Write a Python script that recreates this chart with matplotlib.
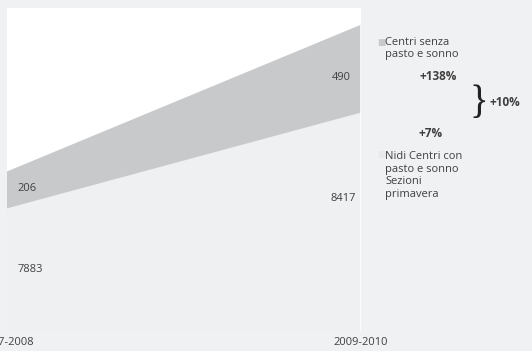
import matplotlib
matplotlib.use("Agg")
import matplotlib.pyplot as plt

# data
years = ["2007-2008", "2009-2010"]
nidi = [7883, 8417]          # Nidi, centri con pasto e sonno, sezioni primavera
centri = [206, 490]          # Centri senza pasto e sonno
pct_centri = "+138%"
pct_nidi = "+7%"
pct_total = "+10%"

BG = "#f0f1f3"
LOW = "#eff0f2"
TOP = "#c8c9cb"
TXT = "#404040"

plt.rcParams["font.family"] = ["Open Sans", "DejaVu Sans"]

fig = plt.figure(figsize=(5.32, 3.51), dpi=100, facecolor=BG)
ax = fig.add_axes([7 / 532, 20 / 351, 354 / 532, 323 / 351])
ax.set_facecolor("white")

x = [0, 1]
ax.stackplot(x, nidi, centri, colors=[LOW, TOP], linewidth=0)
ax.set_xlim(0, 1)
ax.set_ylim(7200, 9000)

for s in ax.spines.values():
    s.set_visible(False)
ax.axvline(1, color="white", lw=1.2)
ax.set_yticks([])
ax.set_xticks(x)
ax.set_xticklabels(years, fontsize=8, color=TXT)
ax.tick_params(axis="x", length=0, pad=4)

# value labels
ax.text(0.03, 7993, str(centri[0]), fontsize=8, color=TXT, va="center")
ax.text(0.03, 7545, str(nidi[0]), fontsize=8, color=TXT, va="center")
ax.text(0.97, 8615, str(centri[1]), fontsize=8, color=TXT, va="center", ha="right")
ax.text(0.985, 7937, str(nidi[1]), fontsize=8, color=TXT, va="center", ha="right")

# legend / annotations on the right
fig.text(377 / 532, 1 - 42 / 351, "\u25a0", fontsize=6.5, color=TOP, va="center")
fig.text(385 / 532, 1 - 48.5 / 351, "Centri senza\npasto e sonno", fontsize=8, color=TXT,
         va="center", linespacing=1.2)
fig.text(438 / 532, 1 - 77 / 351, pct_centri, fontsize=8.5, color=TXT, weight="bold",
         va="center", ha="center")
fig.text(431 / 532, 1 - 133 / 351, pct_nidi, fontsize=8.5, color=TXT, weight="bold",
         va="center", ha="center")
fig.text(479 / 532, 1 - 104 / 351, "}", fontsize=28, color="#222222", va="center",
         ha="center", family="Liberation Serif")
fig.text(490 / 532, 1 - 102 / 351, pct_total, fontsize=8.5, color=TXT, weight="bold",
         va="center")
fig.text(377 / 532, 1 - 155 / 351, "\u25a0", fontsize=6.5, color="#e8e9eb", va="center")
fig.text(385 / 532, 1 - 175.5 / 351, "Nidi Centri con\npasto e sonno\nSezioni\nprimavera",
         fontsize=8, color=TXT, va="center", linespacing=1.2)

fig.savefig("out.png", dpi=100, facecolor=BG)
